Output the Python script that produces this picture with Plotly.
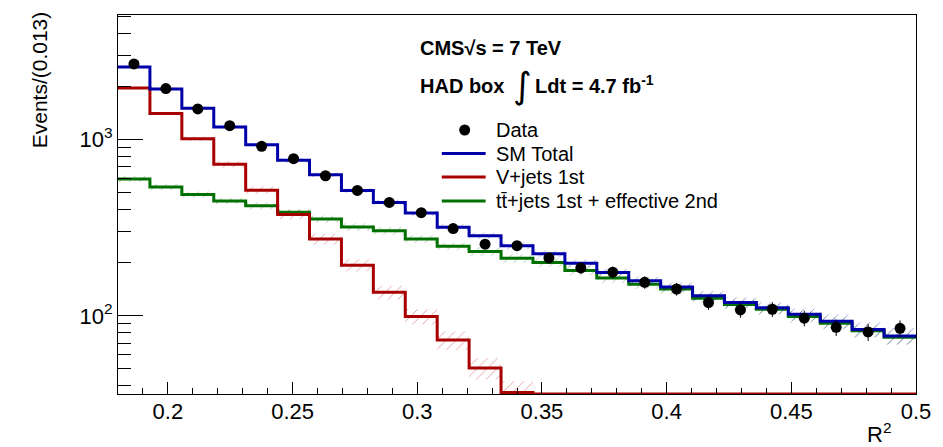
import numpy as np
import plotly.graph_objects as go

# Binning in R^2: 25 bins from 0.18 to 0.50
r2_lo, r2_hi, n_bins = 0.18, 0.50, 25
edges = np.linspace(r2_lo, r2_hi, n_bins + 1)
centers = 0.5 * (edges[:-1] + edges[1:])

# Observed events per bin
data_counts = [2692, 1950, 1494, 1201, 916, 780, 624, 515, 440, 385, 313, 255, 250,
               213, 187, 177, 155, 142, 119, 108, 109, 97, 86, 81, 85]

# Background model components
sm_total = [2588, 1941, 1506, 1181, 937, 763, 632, 515, 440, 383, 318, 285, 250,
            225, 199, 176, 158, 146, 130, 119, 111, 102, 93.3, 83.6, 76.9]
vjets_1st = [1967, 1406, 1013, 724, 517, 376, 273, 194, 136, 99.1, 72.8, 50.6, 36.7,
             24, 18, 12, 7, 4, 4, 3, 2, 2, 1, 1, 1]
ttjets = [598, 539, 489, 449, 422, 387, 355, 319, 304, 273, 248, 232, 212,
          201, 181, 164, 151, 142, 126, 116, 109, 99.1, 90.9, 82.2, 75.5]

# Relative uncertainties of each component (hatched bands)
sm_rel = [0.02, 0.02, 0.02, 0.025, 0.025, 0.03, 0.03, 0.03, 0.035, 0.035, 0.04, 0.04, 0.045,
          0.045, 0.05, 0.05, 0.055, 0.06, 0.065, 0.07, 0.075, 0.08, 0.09, 0.10, 0.11]
vj_rel = [0.01, 0.02, 0.03, 0.04, 0.05, 0.06, 0.07, 0.08, 0.09, 0.10, 0.12, 0.14, 0.16,
          0.18, 0.2, 0.2, 0.2, 0.2, 0.2, 0.2, 0.2, 0.2, 0.2, 0.2, 0.2]
tt_rel = [0.04, 0.04, 0.04, 0.04, 0.045, 0.045, 0.045, 0.05, 0.05, 0.05, 0.05, 0.055, 0.055,
          0.055, 0.06, 0.06, 0.06, 0.065, 0.065, 0.07, 0.07, 0.075, 0.08, 0.08, 0.085]

# Legend entries (top to bottom)
legend_labels = ["Data", "SM Total", "V+jets 1st", "tt\u0304+jets 1st + effective 2nd"]

y_min, y_max = 36.0, 5100.0

BLUE = "#0000a8"
RED = "#a80000"
GREEN = "#007000"
FONT = "Liberation Sans, Arial, sans-serif"

# frame geometry in pixels
W, H = 943, 447
ML, MR, MT, MB = 118, 24, 15, 53
PW, PH = W - ML - MR, H - MT - MB


def px(xp):
    return (xp - ML) / PW


def py(yp):
    return (H - MB - yp) / PH


fig = go.Figure()


def step_y(vals):
    """Histogram-style step values (last bin repeated for the closing edge),
    clamped to the frame floor like an empty bin."""
    v = [max(float(a), y_min) for a in vals]
    return v + [v[-1]]


def add_component(vals, rel, color, name):
    vals = np.asarray(vals, dtype=float)
    rel = np.asarray(rel, dtype=float)
    lo = vals * (1 - rel)
    hi = vals * (1 + rel)
    # hatched uncertainty band
    fig.add_trace(go.Scatter(x=edges, y=step_y(lo), mode="lines", line=dict(width=0, shape="hv"),
                             showlegend=False, hoverinfo="skip"))
    fig.add_trace(go.Scatter(x=edges, y=step_y(hi), mode="lines", line=dict(width=0, shape="hv"),
                             fill="tonexty", fillcolor="rgba(0,0,0,0)",
                             fillpattern=dict(shape="/", fgcolor=color, bgcolor="rgba(0,0,0,0)",
                                              size=7, solidity=0.1),
                             showlegend=False, hoverinfo="skip", opacity=0.8))
    # central value
    fig.add_trace(go.Scatter(x=edges, y=step_y(vals), mode="lines",
                             line=dict(color=color, width=3, shape="hv"),
                             name=name, showlegend=False))


add_component(ttjets, tt_rel, GREEN, legend_labels[3])
add_component(vjets_1st, vj_rel, RED, legend_labels[2])
add_component(sm_total, sm_rel, BLUE, legend_labels[1])

fig.add_trace(go.Scatter(
    x=centers, y=data_counts, mode="markers", name=legend_labels[0], showlegend=False,
    marker=dict(color="black", size=11),
    error_y=dict(type="data", array=np.sqrt(data_counts), color="black", thickness=1, width=0),
))

minor_y = [v * d for d in (10, 100, 1000) for v in range(2, 10) if y_min <= v * d <= y_max]

fig.update_layout(
    width=W, height=H,
    margin=dict(l=ML, r=MR, t=MT, b=MB),
    paper_bgcolor="white", plot_bgcolor="white",
    font=dict(family=FONT, color="black", size=22),
    showlegend=False,
    xaxis=dict(range=[r2_lo, r2_hi], showgrid=False, zeroline=False,
               showline=True, linecolor="black", linewidth=1, mirror=True,
               ticks="inside", ticklen=12, tickcolor="black", ticklabelstandoff=-2,
               tickvals=[0.2, 0.25, 0.3, 0.35, 0.4, 0.45, 0.5],
               ticktext=["0.2", "0.25", "0.3", "0.35", "0.4", "0.45", "0.5"],
               minor=dict(tickvals=[round(0.18 + 0.01 * i, 2) for i in range(33)],
                          ticks="inside", ticklen=6, tickcolor="black")),
    yaxis=dict(type="log", range=[np.log10(y_min), np.log10(y_max)], showgrid=False, zeroline=False,
               showline=True, linecolor="black", linewidth=1, mirror=True,
               ticks="inside", ticklen=25, tickcolor="black",
               tickvals=[100, 1000], ticktext=["10<sup>2</sup>", "10<sup>3</sup>"],
               minor=dict(tickvals=minor_y, ticks="inside", ticklen=13, tickcolor="black")),
)

# Legend drawn inside the frame
row_y = [130, 153.5, 177, 201]
colors = [None, BLUE, RED, GREEN]
for label, yy, col in zip(legend_labels, row_y, colors):
    if col is None:
        fig.add_shape(type="circle", xref="paper", yref="paper",
                      x0=px(460.5), x1=px(471.5), y0=py(yy + 5.5), y1=py(yy - 5.5),
                      fillcolor="black", line=dict(width=0))
    else:
        fig.add_shape(type="line", xref="paper", yref="paper",
                      x0=px(443), x1=px(487), y0=py(yy), y1=py(yy),
                      line=dict(color=col, width=3))
    fig.add_annotation(text=label, xref="paper", yref="paper", x=px(495), y=py(yy),
                       xanchor="left", yanchor="middle", showarrow=False,
                       font=dict(size=20, family=FONT))

fig.add_annotation(text="Events/(0.013)", textangle=-90, xref="paper", yref="paper",
                   x=px(40), y=py(80), xanchor="center", yanchor="middle", showarrow=False,
                   font=dict(size=21, family=FONT))
fig.add_annotation(text="R<sup>2</sup>", xref="paper", yref="paper", x=px(882), y=py(433),
                   xanchor="center", yanchor="middle", showarrow=False,
                   font=dict(size=22, family=FONT))
fig.add_annotation(text="<b>CMS\u221as = 7 TeV</b>", xref="paper", yref="paper",
                   x=px(419), y=py(48), xanchor="left", yanchor="middle", showarrow=False,
                   font=dict(size=20, family=FONT))
fig.add_annotation(text="<b>HAD box</b>", xref="paper", yref="paper",
                   x=px(419), y=py(86), xanchor="left", yanchor="middle", showarrow=False,
                   font=dict(size=20, family=FONT))
fig.add_annotation(text="\u222b", xref="paper", yref="paper",
                   x=px(512), y=py(86), xanchor="left", yanchor="middle", showarrow=False,
                   font=dict(size=36, family="DejaVu Sans"))
fig.add_annotation(text="<b>Ldt = 4.7 fb<sup>-1</sup></b>", xref="paper", yref="paper",
                   x=px(535), y=py(84), xanchor="left", yanchor="middle", showarrow=False,
                   font=dict(size=20, family=FONT))

fig.write_html("out.html")
